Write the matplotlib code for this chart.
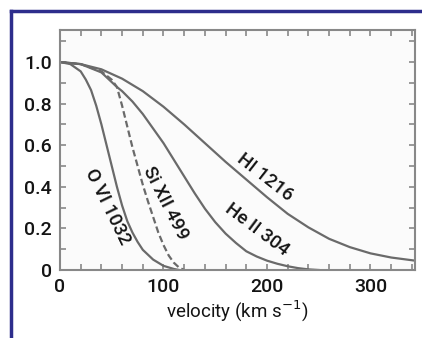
import numpy as np
import matplotlib; matplotlib.use('Agg')
import matplotlib.pyplot as plt
from matplotlib.lines import Line2D

plt.rcParams['font.family'] = ['Roboto', 'Liberation Sans', 'DejaVu Sans']
plt.rcParams['font.weight'] = 'medium'

# values (velocity in km/s, normalised intensity)
ovi_v = [0, 10, 20, 25, 30, 35, 40, 45, 50, 55, 60, 65, 70, 75, 80, 90, 100, 110, 115]
ovi_f = [1.0, 0.99, 0.955, 0.915, 0.865, 0.79, 0.70, 0.60, 0.50, 0.40, 0.31, 0.235, 0.18,
         0.135, 0.097, 0.05, 0.02, 0.005, 0.0]

sixii_v = [0, 20, 40, 50, 55, 60, 65, 70, 75, 80, 85, 90, 95, 100, 105, 110, 115, 120]
sixii_f = [1.0, 0.99, 0.955, 0.915, 0.88, 0.79, 0.69, 0.59, 0.50, 0.41, 0.33, 0.255,
           0.18, 0.12, 0.07, 0.035, 0.012, 0.0]

heii_v = [0, 20, 40, 55, 60, 70, 80, 90, 100, 110, 120, 130, 140, 150, 160, 170, 180,
          190, 200, 210, 220, 230, 240, 250]
heii_f = [1.0, 0.99, 0.95, 0.88, 0.86, 0.81, 0.75, 0.68, 0.61, 0.53, 0.45, 0.37, 0.295,
          0.23, 0.175, 0.13, 0.09, 0.065, 0.045, 0.03, 0.018, 0.009, 0.003, 0.0]

hi_v = [0, 20, 40, 60, 80, 100, 120, 140, 160, 180, 200, 220, 240, 260, 280, 300, 320, 343]
hi_f = [1.0, 0.99, 0.965, 0.92, 0.86, 0.785, 0.70, 0.61, 0.52, 0.435, 0.35, 0.27, 0.205,
        0.15, 0.11, 0.08, 0.06, 0.045]

labels = ['O VI 1032', 'Si XII 499', 'HI 1216', 'He II 304']
label_xy = [(46, 0.305), (102, 0.32), (198, 0.445), (190, 0.195)]
label_rot = [-64, -63, -38, -37]

x_ticks = [0, 100, 200, 300]
y_ticks = [0, 0.2, 0.4, 0.6, 0.8, 1.0]
y_ticklabels = ['0', '0.2', '0.4', '0.6', '0.8', '1.0']

line_col = '#6a6a6a'
text_col = '#141414'

fig = plt.figure(figsize=(4.22, 3.38), dpi=100)
ax = fig.add_axes([60 / 422, 68 / 338, 355 / 422, 240 / 338])
ax.set_facecolor('#fbfbfb')

ax.plot(ovi_v, ovi_f, color=line_col, lw=1.6)
ax.plot(sixii_v, sixii_f, color=line_col, lw=1.6, ls=(0, (3, 1.5)))
ax.plot(heii_v, heii_f, color=line_col, lw=1.6)
ax.plot(hi_v, hi_f, color=line_col, lw=1.6)

for txt, (x, y), r in zip(labels, label_xy, label_rot):
    ax.text(x, y, txt, rotation=r, rotation_mode='anchor', ha='center', va='center',
            fontsize=13.5, color=text_col)

ax.set_xlim(0, 343)
ax.set_ylim(0, 1.154)
ax.set_xticks(x_ticks)
ax.set_yticks(y_ticks)
ax.set_yticklabels(y_ticklabels)
ax.set_xticks(np.arange(20, 343, 20), minor=True)
ax.set_yticks(np.arange(0.1, 1.15, 0.1), minor=True)
ax.tick_params(which='both', direction='in', length=4, width=1.2, color='#888888',
               top=True, right=True)
ax.tick_params(which='major', labelsize=14, labelcolor=text_col, pad=6)
ax.set_xlabel('velocity (km s$^{-1}$)', fontsize=13.5, color=text_col, labelpad=2)

for s in ax.spines.values():
    s.set_color('#888888')
    s.set_linewidth(1.5)

# dark blue frame, only left and top edges visible
frame_col = '#2d2d8c'
fig.add_artist(Line2D([10.5 / 422, 10.5 / 422], [0, 1 - 10.5 / 338], color=frame_col, lw=2.5))
fig.add_artist(Line2D([10.5 / 422, 1], [1 - 10.5 / 338, 1 - 10.5 / 338], color=frame_col, lw=2.5))

fig.savefig('out.png', dpi=100)
